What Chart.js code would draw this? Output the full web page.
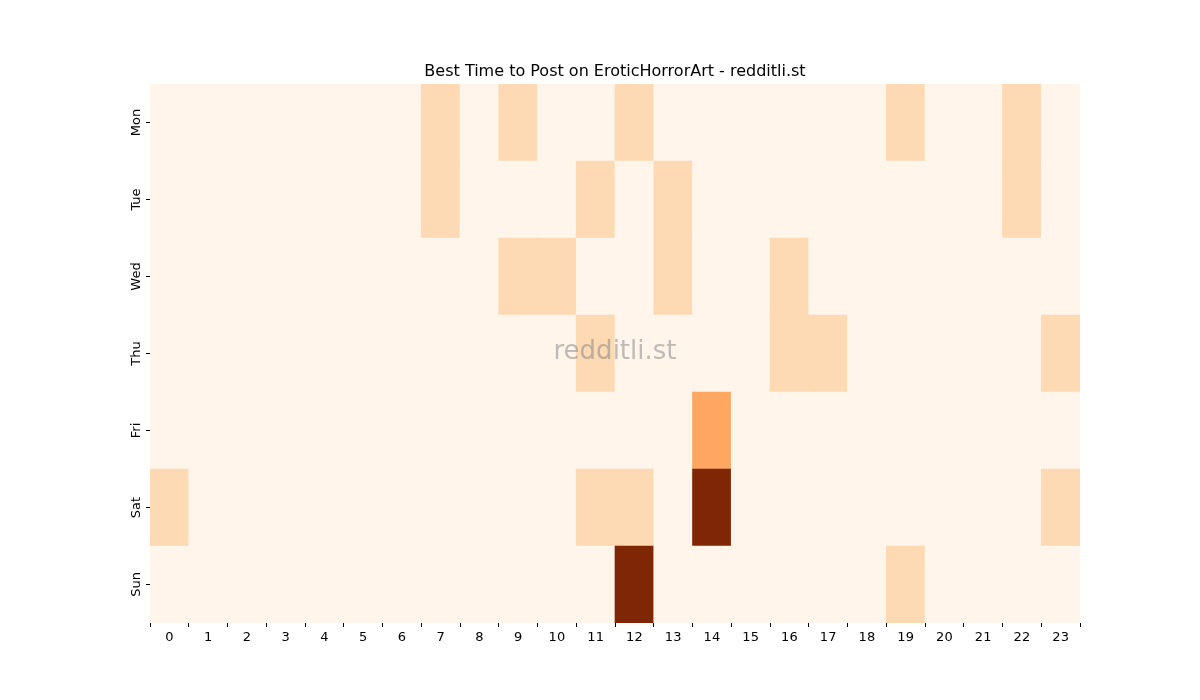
<!DOCTYPE html>
<html><head><meta charset="utf-8">
<script src="https://cdn.jsdelivr.net/npm/chart.js@4"></script>
<style>body{margin:0;background:#fff}#w{width:1200px;height:700px}</style>
</head><body><div id="w"><canvas id="c" width="1200" height="700"></canvas></div>
<script>
const hours = Array.from({length:24},(_,i)=>String(i));
const days = ["Mon","Tue","Wed","Thu","Fri","Sat","Sun"];
const mon = [0,0,0,0,0,0,0,1,0,1,0,0,1,0,0,0,0,0,0,1,0,0,1,0];
const tue = [0,0,0,0,0,0,0,1,0,0,0,1,0,1,0,0,0,0,0,0,0,0,1,0];
const wed = [0,0,0,0,0,0,0,0,0,1,1,0,0,1,0,0,1,0,0,0,0,0,0,0];
const thu = [0,0,0,0,0,0,0,0,0,0,0,1,0,0,0,0,1,1,0,0,0,0,0,1];
const fri = [0,0,0,0,0,0,0,0,0,0,0,0,0,0,2,0,0,0,0,0,0,0,0,0];
const sat = [1,0,0,0,0,0,0,0,0,0,0,1,1,0,3,0,0,0,0,0,0,0,0,1];
const sun = [0,0,0,0,0,0,0,0,0,0,0,0,3,0,0,0,0,0,0,1,0,0,0,0];
const rows = [mon,tue,wed,thu,fri,sat,sun];
const palette = ["#fff5eb","#fdd9b4","#fda762","#7f2704"];

// stacked bottom-up: Sun first
const datasets = rows.slice().reverse().map((r,i)=>({
  label: days[6-i], data: r.map(()=>1),
  backgroundColor: r.map(v=>palette[v]), borderWidth:0,
  barPercentage:1, categoryPercentage:1
}));

const deco = {
  id:'deco',
  afterDraw(chart){
    const {ctx, chartArea:a, scales:{y}} = chart;
    ctx.save();
    ctx.fillStyle='#000'; ctx.font='16px "DejaVu Sans"'; ctx.textAlign='center'; ctx.textBaseline='alphabetic';
    ctx.fillText('Best Time to Post on EroticHorrorArt - redditli.st', (a.left+a.right)/2, 76);
    ctx.font='13px "DejaVu Sans"';
    days.forEach((d,i)=>{
      const py = y.getPixelForValue(6.5-i);
      ctx.strokeStyle='#000'; ctx.lineWidth=1;
      ctx.beginPath(); ctx.moveTo(a.left-4,py); ctx.lineTo(a.left,py); ctx.stroke();
      ctx.save(); ctx.translate(a.left-13,py); ctx.rotate(-Math.PI/2);
      ctx.textBaseline='middle'; ctx.fillText(d,0,0); ctx.restore();
    });
    ctx.fillStyle='rgba(128,128,128,0.5)'; ctx.font='26px "DejaVu Sans"'; ctx.textBaseline='middle';
    ctx.fillText('redditli.st', 615, 352);
    ctx.restore();
  }
};

new Chart(document.getElementById('c'),{
  type:'bar',
  data:{labels:hours, datasets},
  options:{
    responsive:false, animation:false,
    layout:{padding:{left:150,right:120,top:84,bottom:0}},
    plugins:{legend:{display:false},title:{display:false},tooltip:{enabled:false}},
    scales:{
      x:{stacked:true, grid:{drawOnChartArea:false, tickLength:4, color:'#000'}, border:{display:false},
         ticks:{color:'#000', font:{size:13, family:'DejaVu Sans'}, padding:3, maxRotation:0},
         afterFit(s){s.height=77;}},
      y:{stacked:true, min:0, max:7, display:false}
    }
  },
  plugins:[deco]
});
</script></body></html>
